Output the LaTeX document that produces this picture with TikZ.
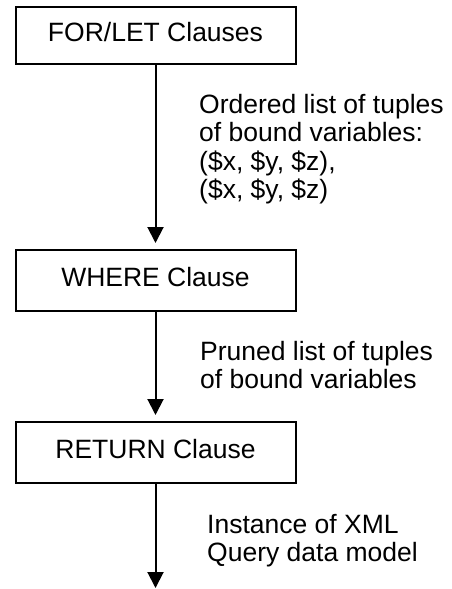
\documentclass[tikz,border=0pt]{standalone}
\usepackage{fontspec}
\setmainfont{Liberation Sans}
\usetikzlibrary{arrows.meta}
\begin{document}
\begin{tikzpicture}[x=1pt,y=-1pt,
  clausebox/.style={draw=black, line width=2pt, rectangle, minimum width=280pt,
    inner sep=0pt, font=\fontsize{26.5}{28.5}\selectfont, text height=19pt, text depth=8pt},
  flow/.style={line width=2pt, -{Triangle[width=16pt,length=16pt]}, shorten >=6pt},
  lastflow/.style={line width=2pt, -{Triangle[width=16pt,length=16pt]}},
  lbl/.style={anchor=base west, inner sep=0pt, font=\fontsize{26.5}{28.5}\selectfont}]
\useasboundingbox (0,0) rectangle (451,589);
\node[clausebox, minimum height=57pt] (forlet) at (155.5,35.5) {FOR/LET Clauses};
\node[clausebox, minimum height=61pt] (where) at (155.5,280.5) {WHERE Clause};
\node[clausebox, minimum height=61pt] (return) at (155.5,452.5) {RETURN Clause};
\coordinate (out) at (155.5,588);
\draw[flow] (forlet) -- (where);
\draw[flow] (where) -- (return);
\draw[lastflow] (return) -- (out);
\node[lbl] (l1) at (199,113) {\begin{tabular}[t]{@{}l@{}}Ordered list of tuples\\ of bound variables:\\ (\$x, \$y, \$z),\\ (\$x, \$y, \$z)\end{tabular}};
\node[lbl] (l2) at (200,360) {\begin{tabular}[t]{@{}l@{}}Pruned list of tuples\\ of bound variables\end{tabular}};
\node[lbl] (l3) at (207,533) {\begin{tabular}[t]{@{}l@{}}Instance of XML\\ Query data model\end{tabular}};
\end{tikzpicture}
\end{document}
